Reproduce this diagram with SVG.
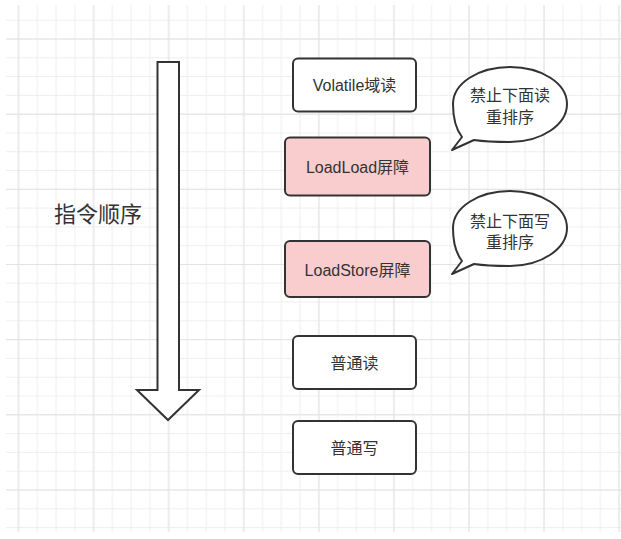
<svg xmlns="http://www.w3.org/2000/svg" width="621" height="539" viewBox="0 0 621 539">
  <defs>
    <pattern id="gMinor" patternUnits="userSpaceOnUse" x="17.5" y="38.5" width="18.77" height="18.79">
      <rect x="0.5" y="0" width="1" height="18.79" fill="#eeeeee"/>
      <rect x="0" y="0" width="18.77" height="1" fill="#eeeeee"/>
    </pattern>
    <pattern id="gMajor" patternUnits="userSpaceOnUse" x="17.5" y="38.5" width="75.08" height="75.16">
      <rect x="0.5" y="0" width="1" height="75.16" fill="#e2e2e2"/>
      <rect x="0" y="0" width="75.08" height="1" fill="#e2e2e2"/>
    </pattern>
    <path id="bubbleShape" d="M452,150 L462,137 C455,128 453,116 453,104 C453,83.3 478.5,67 510,67 C541.5,67 567,83.3 567,104 C567,124.7 541.5,142 510,142 C496,142 484,141.5 474,140 Z"/>
  </defs>
  <style>
    .box { stroke: #333333; stroke-width: 2; }
    .plain { fill: #ffffff; }
    .pink { fill: #f9cdcd; }
    .lbl { font-family: "Liberation Sans", "Noto Sans CJK SC", sans-serif; font-size: 16px; fill: #333333; text-anchor: middle; dominant-baseline: central; }
    .bub { fill: #ffffff; stroke: #333333; stroke-width: 2; stroke-linejoin: round; }
    .title { font-family: "Liberation Sans", "Noto Sans CJK SC", sans-serif; font-size: 22px; fill: #333333; text-anchor: middle; dominant-baseline: central; }
  </style>
  <rect width="621" height="539" fill="#ffffff"/>
  <rect x="6" y="5" width="615" height="527" fill="url(#gMinor)"/>
  <rect x="6" y="5" width="615" height="527" fill="url(#gMajor)"/>

  <g id="connectors">
    <path id="order-arrow" d="M157.5,62 H179 V390 H199 L168,420 L137,390 H157.5 Z" fill="#ffffff" stroke="#333333" stroke-width="2" stroke-linejoin="miter"/>
  </g>

  <g id="title">
    <text class="title" x="98" y="214.5">指令顺序</text>
  </g>

  <g id="volatile-read">
    <rect class="box plain" x="293" y="58.5" width="123" height="53" rx="5"/>
    <text class="lbl" x="354.5" y="85">Volatile域读</text>
  </g>
  <g id="loadload">
    <rect class="box pink" x="285" y="137.5" width="145" height="58" rx="5"/>
    <text class="lbl" x="357.5" y="167.5">LoadLoad屏障</text>
  </g>
  <g id="loadstore">
    <rect class="box pink" x="285" y="241" width="145" height="56" rx="5"/>
    <text class="lbl" x="357.5" y="270">LoadStore屏障</text>
  </g>
  <g id="normal-read">
    <rect class="box plain" x="293" y="336" width="123" height="53" rx="5"/>
    <text class="lbl" x="354.5" y="363">普通读</text>
  </g>
  <g id="normal-write">
    <rect class="box plain" x="293" y="421" width="123" height="53" rx="5"/>
    <text class="lbl" x="354.5" y="448">普通写</text>
  </g>

  <g id="bubble-read">
    <use href="#bubbleShape" class="bub"/>
    <text class="lbl" x="510" y="95">禁止下面读</text>
    <text class="lbl" x="510" y="117">重排序</text>
  </g>
  <g id="bubble-write">
    <use href="#bubbleShape" class="bub" transform="translate(0,124)"/>
    <text class="lbl" x="510" y="221">禁止下面写</text>
    <text class="lbl" x="510" y="242">重排序</text>
  </g>
</svg>
